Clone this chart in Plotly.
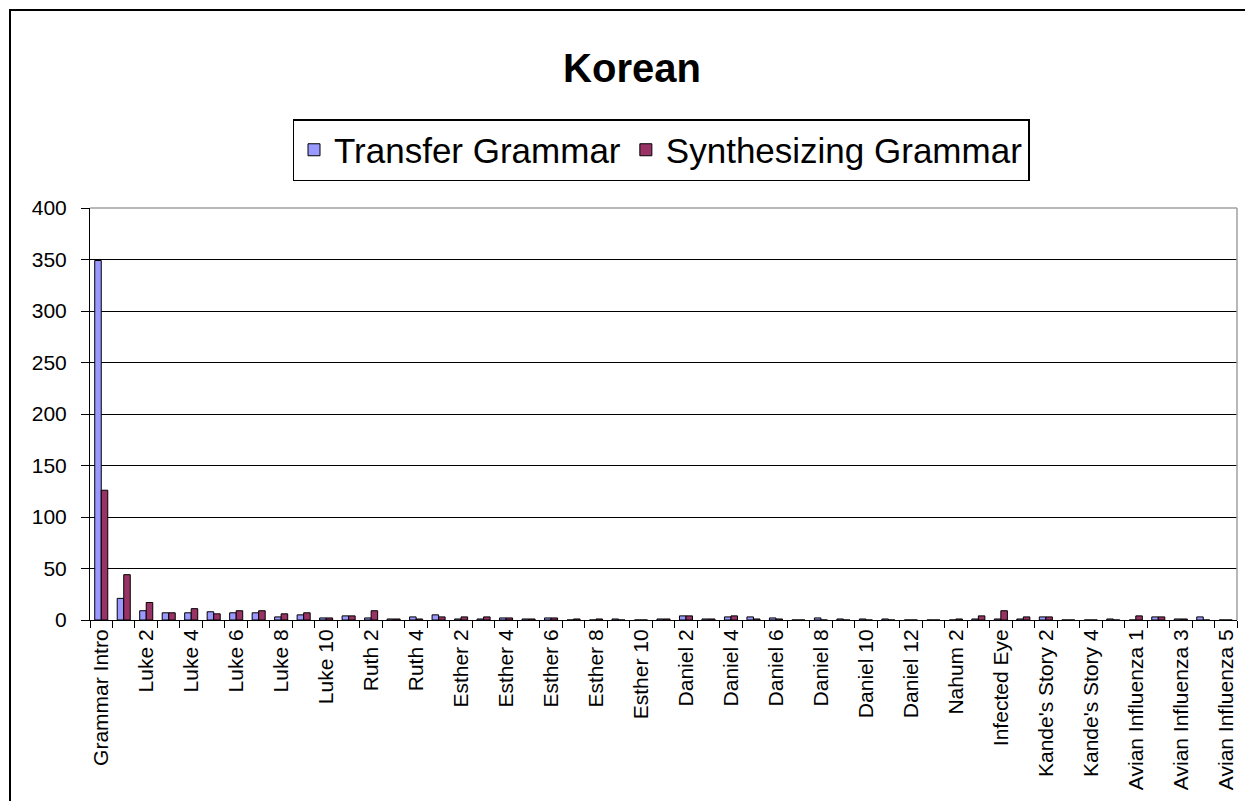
import plotly.graph_objects as go

categories = [
    "Grammar Intro", "Luke 1", "Luke 2", "Luke 3", "Luke 4", "Luke 5", "Luke 6", "Luke 7",
    "Luke 8", "Luke 9", "Luke 10", "Ruth 1", "Ruth 2", "Ruth 3", "Ruth 4",
    "Esther 1", "Esther 2", "Esther 3", "Esther 4", "Esther 5", "Esther 6", "Esther 7",
    "Esther 8", "Esther 9", "Esther 10",
    "Daniel 1", "Daniel 2", "Daniel 3", "Daniel 4", "Daniel 5", "Daniel 6", "Daniel 7",
    "Daniel 8", "Daniel 9", "Daniel 10", "Daniel 11", "Daniel 12",
    "Nahum 1", "Nahum 2", "Nahum 3", "Infected Eye",
    "Kande's Story 1", "Kande's Story 2", "Kande's Story 3", "Kande's Story 4", "Kande's Story 5",
    "Avian Influenza 1", "Avian Influenza 2", "Avian Influenza 3", "Avian Influenza 4",
    "Avian Influenza 5",
]

transfer_grammar = [
    349, 21, 9, 7, 7, 8, 7, 7, 3, 5, 2, 4, 2, 1, 3,
    5, 1, 1, 2, 1, 2, 0, 0, 1, 0,
    1, 4, 1, 3, 3, 2, 0, 2, 1, 1, 1, 0,
    0, 0, 1, 1,
    1, 3, 0, 0, 1,
    0, 3, 1, 3, 0,
]

synthesizing_grammar = [
    126, 44, 17, 7, 11, 6, 9, 9, 6, 7, 2, 4, 9, 1, 1,
    3, 3, 3, 2, 1, 2, 1, 1, 0, 0,
    1, 4, 1, 4, 1, 1, 0, 0, 0, 0, 0, 0,
    0, 1, 4, 9,
    3, 3, 0, 0, 0,
    4, 3, 1, 0, 0,
]

y_ticks = [0, 50, 100, 150, 200, 250, 300, 350, 400]

# show every other category label, like the original
tick_text = [c if i % 2 == 0 else "" for i, c in enumerate(categories)]

FONT = "Arial, 'Liberation Sans', sans-serif"

fig = go.Figure()
fig.add_trace(go.Bar(
    x=categories, y=transfer_grammar, name="Transfer Grammar",
    marker=dict(color="#9999FF", line=dict(color="#000000", width=1)),
))
fig.add_trace(go.Bar(
    x=categories, y=synthesizing_grammar, name="Synthesizing Grammar",
    marker=dict(color="#993366", line=dict(color="#000000", width=1)),
))

L, R, T, B = 90, 8, 208, 181
W, H = 1245, 801
pw = W - L - R
ph = H - T - B

def px_x(p):
    return (p - L) / pw

def px_y(p):
    return (H - B - p) / ph

fig.update_layout(
    width=W, height=H,
    margin=dict(l=L, r=R, t=T, b=B, pad=0),
    paper_bgcolor="#FFFFFF", plot_bgcolor="#FFFFFF",
    barmode="group", bargap=0.42, bargroupgap=0.0,
    font=dict(family=FONT, color="#000000"),
    title=dict(text="<b>Korean</b>", x=632 / W, xanchor="center",
               y=1 - 68 / H, yanchor="middle",
               font=dict(size=40, family=FONT, color="#000000")),
    legend=dict(orientation="h", x=px_x(661), xanchor="center",
                y=px_y(119), yanchor="top",
                font=dict(size=35, family=FONT, color="#000000"),
                bordercolor="#000000", borderwidth=1.5, bgcolor="#FFFFFF",
                itemwidth=30, tracegroupgap=0),
    xaxis=dict(type="category", tickmode="array", tickvals=categories, ticktext=tick_text,
               tickangle=-90, tickson="boundaries", ticks="outside", ticklen=7,
               tickcolor="#000000", tickwidth=1,
               showline=True, linecolor="#000000", linewidth=1,
               showgrid=False, zeroline=False,
               tickfont=dict(size=21, family=FONT, color="#000000")),
    yaxis=dict(range=[0, 400], tickmode="array", tickvals=y_ticks,
               ticks="outside", ticklen=8, tickcolor="#000000", tickwidth=1,
               showline=True, linecolor="#000000", linewidth=1,
               showgrid=True, gridcolor="#000000", gridwidth=1,
               zeroline=False, ticklabelstandoff=10,
               tickfont=dict(size=21, family=FONT, color="#000000")),
    shapes=[
        # plot area border (top and right) in grey
        dict(type="line", xref="paper", yref="paper", x0=0, x1=1, y0=1, y1=1,
             line=dict(color="#A0A0A0", width=1.5), layer="above"),
        dict(type="line", xref="paper", yref="paper", x0=1, x1=1, y0=0, y1=1,
             line=dict(color="#A0A0A0", width=1.5), layer="above"),
        # chart area border
        dict(type="rect", xref="paper", yref="paper",
             x0=px_x(10), x1=px_x(1260), y0=px_y(820), y1=px_y(10),
             line=dict(color="#000000", width=2), fillcolor="rgba(0,0,0,0)",
             layer="above"),
    ],
)

fig.write_html("out.html", config={"displayModeBar": False},
               post_script="document.body.style.margin='0';document.body.style.overflow='hidden';")
